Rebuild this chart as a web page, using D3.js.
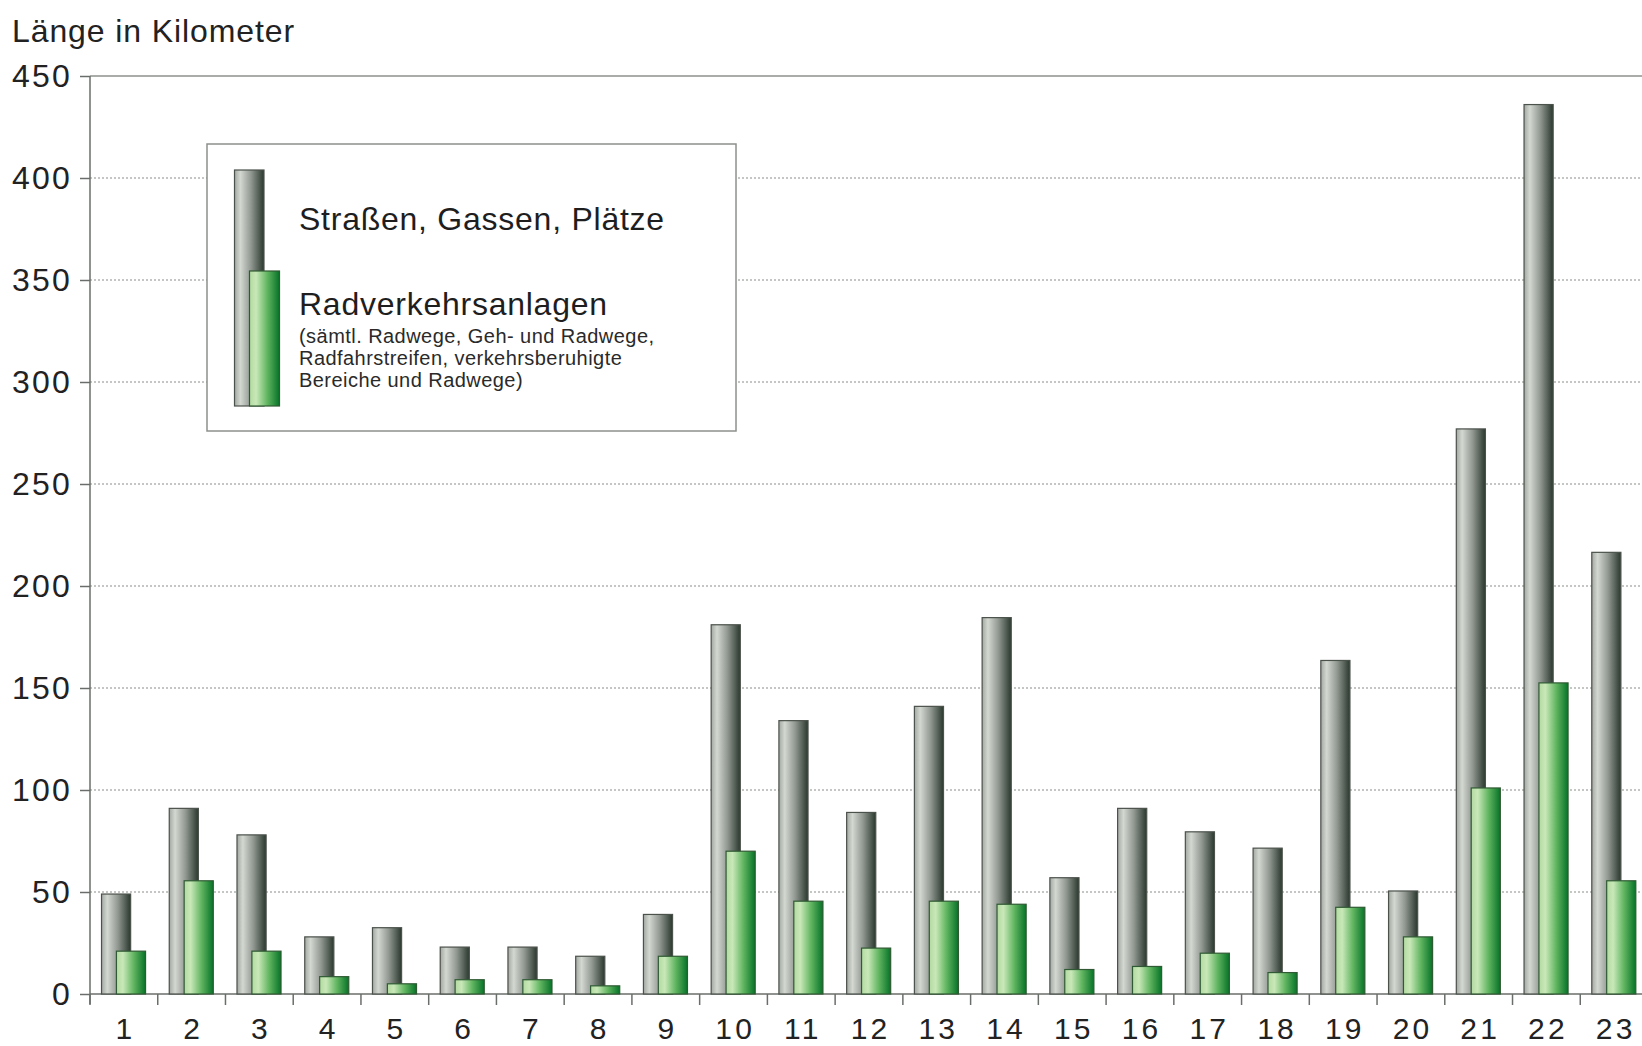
<!DOCTYPE html>
<html>
<head>
<meta charset="utf-8">
<script src="https://cdn.jsdelivr.net/npm/d3@7"></script>
<style>
  html, body { margin: 0; padding: 0; background: #fff; }
  svg { display: block; font-family: "Liberation Sans", Arial, sans-serif; }
</style>
</head>
<body>
<svg id="chart" width="1642" height="1046"></svg>
<script>
const districts = ['1','2','3','4','5','6','7','8','9','10','11','12','13','14','15','16','17','18','19','20','21','22','23'];
const strassen = [49, 91, 78, 28, 32.5, 23, 23, 18.5, 39, 181, 134, 89, 141, 184.5, 57, 91, 79.5, 71.5, 163.5, 50.5, 277, 436, 216.5];
const radwege = [21, 55.5, 21, 8.5, 5, 7, 7, 4, 18.5, 70, 45.5, 22.5, 45.5, 44, 12, 13.5, 20, 10.5, 42.5, 28, 101, 152.5, 55.5];
const yTicks = [0, 50, 100, 150, 200, 250, 300, 350, 400, 450];
const legendMain = ['Straßen, Gassen, Plätze', 'Radverkehrsanlagen'];
const legendNote = ['(sämtl. Radwege, Geh- und Radwege,', 'Radfahrstreifen, verkehrsberuhigte', 'Bereiche und Radwege)'];

const svg = d3.select('#chart');
const plotLeft = 90, plotRight = 1648, plotTop = 76, plotBottom = 994;
const axisColor = '#6a6e6a';

const x = d3.scaleBand().domain(districts).range([plotLeft, plotRight]).paddingInner(0);
const y = d3.scaleLinear().domain([0, 450]).range([plotBottom, plotTop]);

const defs = svg.append('defs');
function grad(id, stops) {
  const g = defs.append('linearGradient').attr('id', id).attr('x1', 0).attr('x2', 1).attr('y1', 0).attr('y2', 0);
  stops.forEach(([o, c]) => g.append('stop').attr('offset', o).attr('stop-color', c));
}
grad('gGray', [['0', '#a3a8a2'], ['0.2', '#d3d8d1'], ['0.55', '#939a93'], ['1', '#2a382e']]);
grad('gGreen', [['0', '#b2daa0'], ['0.22', '#c9e8b8'], ['0.6', '#5fb45f'], ['1', '#067328']]);

// dotted grid
svg.append('g')
  .selectAll('line')
  .data(yTicks.filter((d) => d > 0 && d < 450))
  .join('line')
  .attr('x1', plotLeft).attr('x2', 1642)
  .attr('y1', (d) => y(d)).attr('y2', (d) => y(d))
  .attr('stroke', '#8a8e8a').attr('stroke-width', 1.2)
  .attr('stroke-dasharray', '2,2');

// top frame line
svg.append('line')
  .attr('x1', plotLeft).attr('x2', 1642).attr('y1', y(450)).attr('y2', y(450))
  .attr('stroke', '#8c908c').attr('stroke-width', 1.6);

// y axis
const yAxis = svg.append('g').attr('transform', `translate(${plotLeft},0)`)
  .call(d3.axisLeft(y).tickValues(yTicks).tickSize(10).tickPadding(8));
yAxis.select('.domain').attr('stroke', axisColor).attr('stroke-width', 1.5)
  .attr('d', `M0,${plotTop}V${plotBottom + 10}`);
yAxis.selectAll('.tick line').attr('stroke', axisColor).attr('stroke-width', 1.5);
yAxis.selectAll('.tick text')
  .attr('font-size', 32).attr('letter-spacing', 2.2).attr('fill', '#222')
  .attr('font-family', '"Liberation Sans", Arial, sans-serif');

// x axis
const xAxis = svg.append('g').attr('transform', `translate(0,${plotBottom})`)
  .call(d3.axisBottom(x).tickSize(0).tickPadding(24));
xAxis.select('.domain').attr('stroke', axisColor).attr('stroke-width', 1.5)
  .attr('d', `M${plotLeft},0H1642`);
xAxis.selectAll('.tick text')
  .attr('font-size', 30).attr('letter-spacing', 3.2).attr('fill', '#222')
  .attr('dx', 1.6)
  .attr('dy', '0.71em')
  .attr('font-family', '"Liberation Sans", Arial, sans-serif');
svg.append('g')
  .selectAll('line')
  .data(districts)
  .join('line')
  .attr('x1', (d) => x(d)).attr('x2', (d) => x(d))
  .attr('y1', plotBottom).attr('y2', plotBottom + 11)
  .attr('stroke', axisColor).attr('stroke-width', 1.5);

// bars: grey behind, green overlapping to the right
const bw = x.bandwidth();
const barW = bw * 0.43;
svg.append('g')
  .selectAll('rect')
  .data(strassen)
  .join('rect')
  .attr('x', (d, i) => x(districts[i]) + bw * 0.17)
  .attr('y', (d) => y(d))
  .attr('width', barW)
  .attr('height', (d) => plotBottom - y(d))
  .attr('fill', 'url(#gGray)')
  .attr('stroke', '#4b514b').attr('stroke-width', 1.2);

svg.append('g')
  .selectAll('rect')
  .data(radwege)
  .join('rect')
  .attr('x', (d, i) => x(districts[i]) + bw * 0.39)
  .attr('y', (d) => y(d))
  .attr('width', barW)
  .attr('height', (d) => plotBottom - y(d))
  .attr('fill', 'url(#gGreen)')
  .attr('stroke', '#2f5a33').attr('stroke-width', 1.2);

// axis title
svg.append('text')
  .attr('x', 12).attr('y', 42)
  .attr('font-size', 32).attr('letter-spacing', 0.9).attr('fill', '#222')
  .text('Länge in Kilometer');

// legend
const lg = svg.append('g');
lg.append('rect')
  .attr('x', 207).attr('y', 144).attr('width', 529).attr('height', 287)
  .attr('fill', '#fff').attr('stroke', '#8c908c').attr('stroke-width', 1.5);
lg.append('rect')
  .attr('x', 234.5).attr('y', 170).attr('width', 29.5).attr('height', 236)
  .attr('fill', 'url(#gGray)').attr('stroke', '#4b514b').attr('stroke-width', 1.2);
lg.append('rect')
  .attr('x', 249.5).attr('y', 271).attr('width', 30).attr('height', 135)
  .attr('fill', 'url(#gGreen)').attr('stroke', '#2f5a33').attr('stroke-width', 1.2);
lg.selectAll('text.main')
  .data(legendMain)
  .join('text')
  .attr('class', 'main')
  .attr('x', 299).attr('y', (d, i) => [230, 315][i])
  .attr('font-size', 32).attr('letter-spacing', 0.75).attr('fill', '#1e1e1e')
  .text((d) => d);
lg.selectAll('text.note')
  .data(legendNote)
  .join('text')
  .attr('class', 'note')
  .attr('x', 299).attr('y', (d, i) => 343 + i * 22)
  .attr('font-size', 20).attr('letter-spacing', 0.45).attr('fill', '#2a2a2a')
  .text((d) => d);
</script>
</body>
</html>
